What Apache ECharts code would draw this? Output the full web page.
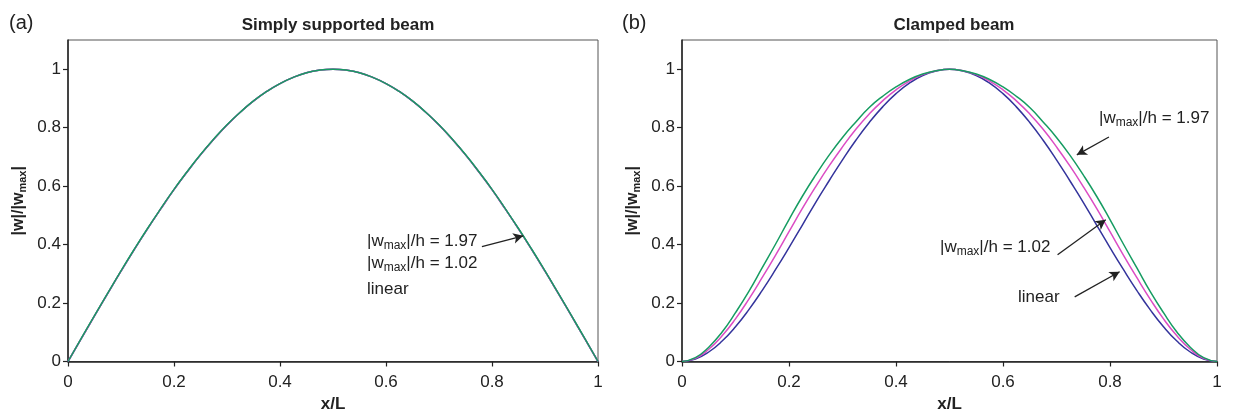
<!DOCTYPE html>
<html>
<head>
<meta charset="UTF-8">
<title>beam</title>
<style>html,body{margin:0;padding:0;background:#fff}#chart{width:1237px;height:414px}</style>
</head>
<body>
<div id="chart"></div>
<script src="https://cdn.jsdelivr.net/npm/echarts@6.0.0/dist/echarts.min.js"></script>
<script>
// x/L positions
var xs = [0,0.025,0.05,0.075,0.1,0.125,0.15,0.175,0.2,0.225,0.25,0.275,0.3,0.325,0.35,0.375,0.4,0.425,0.45,0.475,0.5,
	0.525,0.55,0.575,0.6,0.625,0.65,0.675,0.7,0.725,0.75,0.775,0.8,0.825,0.85,0.875,0.9,0.925,0.95,0.975,1];
// (a) simply supported - the three curves lie on top of each other
var ssLinear = [0,0.078,0.156,0.233,0.309,0.383,0.454,0.522,0.588,0.649,0.707,0.760,0.809,0.853,0.891,0.924,0.951,0.972,0.988,0.997,1,
	0.997,0.988,0.972,0.951,0.924,0.891,0.853,0.809,0.760,0.707,0.649,0.588,0.522,0.454,0.383,0.309,0.233,0.156,0.078,0];
var ss102    = [0,0.078,0.156,0.233,0.309,0.383,0.454,0.522,0.588,0.649,0.707,0.760,0.809,0.853,0.891,0.924,0.951,0.972,0.988,0.997,1,
	0.997,0.988,0.972,0.951,0.924,0.891,0.853,0.809,0.760,0.707,0.649,0.588,0.522,0.454,0.383,0.309,0.233,0.156,0.078,0];
var ss197    = [0,0.079,0.157,0.234,0.310,0.384,0.455,0.523,0.589,0.650,0.708,0.761,0.810,0.853,0.892,0.924,0.951,0.972,0.988,0.997,1,
	0.997,0.988,0.972,0.951,0.924,0.892,0.853,0.810,0.761,0.708,0.650,0.589,0.523,0.455,0.384,0.310,0.234,0.157,0.079,0];
// (b) clamped
var clLinear = [0,0.0085,0.0325,0.070,0.119,0.1776,0.2435,0.3149,0.3897,0.4667,0.5448,0.6184,0.690,0.7569,0.8177,0.8712,0.9165,0.9524,0.9786,0.9938,1,
	0.9938,0.9786,0.9524,0.9165,0.8712,0.8177,0.7569,0.690,0.6184,0.5448,0.4667,0.3897,0.3149,0.2435,0.1776,0.119,0.070,0.0325,0.0085,0];
var cl102    = [0,0.0108,0.042,0.088,0.146,0.2137,0.2875,0.3643,0.4442,0.5236,0.5984,0.6691,0.7342,0.7944,0.847,0.8919,0.9296,0.9595,0.9814,0.9945,1,
	0.9945,0.9814,0.9595,0.9296,0.8919,0.847,0.7944,0.7342,0.6691,0.5984,0.5236,0.4442,0.3643,0.2875,0.2137,0.146,0.088,0.042,0.0108,0];
var cl197    = [0,0.013,0.049,0.101,0.167,0.240,0.3209,0.402,0.4854,0.5654,0.6384,0.706,0.7666,0.8198,0.8691,0.9074,0.9395,0.965,0.9835,0.995,1,
	0.995,0.9835,0.965,0.9395,0.9074,0.8691,0.8198,0.7666,0.706,0.6384,0.5654,0.4854,0.402,0.3209,0.240,0.167,0.101,0.049,0.013,0];

var titles = ['Simply supported beam','Clamped beam'];
var panelTags = ['(a)','(b)'];

var FONT = 'Liberation Sans, Arial, sans-serif';
var cBlue = '#34349c', cPink = '#dc4cc4', cGreen = '#169c62';

function pts(arr){
	return xs.map(function(x,i){ return [x, arr[i]]; });
}

var myChart = echarts.init(document.getElementById('chart'));

function xAx(g){
	return {
		type:'value', gridIndex:g, min:0, max:1, interval:0.2,
		name:'x/L', nameLocation:'middle', nameGap:33,
		nameTextStyle:{fontFamily:FONT, fontSize:17, fontWeight:'bold', color:'#222'},
		axisLine:{lineStyle:{color:'#222', width:1.5}},
		axisTick:{length:5, lineStyle:{color:'#222', width:1.2}},
		axisLabel:{fontFamily:FONT, fontSize:17, color:'#222', margin:12},
		splitLine:{show:false}
	};
}
function yAx(g){
	return {
		type:'value', gridIndex:g, min:0, max:1.1, interval:0.2,
		name:'|w|/|w{s|max}|', nameLocation:'middle', nameGap:40,
		nameTextStyle:{fontFamily:FONT, fontSize:16, fontWeight:'bold', color:'#222',
			rich:{s:{fontFamily:FONT, fontSize:11, fontWeight:'bold', color:'#222', padding:[7,0,0,0]}}},
		axisLine:{lineStyle:{color:'#222', width:1.5}},
		axisTick:{length:5, lineStyle:{color:'#222', width:1.2}},
		axisLabel:{fontFamily:FONT, fontSize:17, color:'#222', margin:7, showMaxLabel:false},
		splitLine:{show:false}
	};
}
function line(name, g, arr, color, arrows){
	var s = {
		name:name, type:'line', xAxisIndex:g, yAxisIndex:g, data:pts(arr),
		smooth:true, showSymbol:false, symbol:'none', silent:true,
		lineStyle:{color:color, width:1.5}
	};
	if(arrows){
		s.markLine = {
			silent:true, symbol:['none','arrow'], symbolSize:[8,10],
			label:{show:false},
			lineStyle:{color:'#222', width:1.3, type:'solid'},
			data: arrows.map(function(a){ return [{coord:a[0]},{coord:a[1]}]; })
		};
	}
	return s;
}

var option = {
	animation:false,
	backgroundColor:'#fff',
	textStyle:{fontFamily:FONT},
	title:[
		{text:titles[0], left:333, top:12, textAlign:'center', textStyle:{fontFamily:FONT, fontSize:17, fontWeight:'bold', color:'#222'}},
		{text:titles[1], left:949, top:12, textAlign:'center', textStyle:{fontFamily:FONT, fontSize:17, fontWeight:'bold', color:'#222'}},
		{text:panelTags[0], left:4, top:8, textStyle:{fontFamily:FONT, fontSize:20, fontWeight:'normal', color:'#222'}},
		{text:panelTags[1], left:617, top:8, textStyle:{fontFamily:FONT, fontSize:20, fontWeight:'normal', color:'#222'}}
	],
	grid:[
		{left:68, width:530, top:40, height:321.5, show:true, borderColor:'#555', borderWidth:1, outerBoundsMode:'none'},
		{left:682, width:535, top:40, height:321.5, show:true, borderColor:'#555', borderWidth:1, outerBoundsMode:'none'}
	],
	xAxis:[xAx(0), xAx(1)],
	yAxis:[yAx(0), yAx(1)],
	series:[
		line('linear', 0, ssLinear, cBlue),
		line('1.02', 0, ss102, cPink),
		line('1.97', 0, ss197, cGreen, [[[0.781,0.393],[0.859,0.430]]]),
		line('linear', 1, clLinear, cBlue),
		line('1.02', 1, cl102, cPink),
		line('1.97', 1, cl197, cGreen, [
			[[0.798,0.768],[0.738,0.707]],
			[[0.702,0.365],[0.792,0.485]],
			[[0.734,0.221],[0.818,0.307]]
		])
	]
};
myChart.setOption(option);

// annotation texts
var rich = {
	b:{fontFamily:FONT, fontSize:17, color:'#222'},
	s:{fontFamily:FONT, fontSize:12, color:'#222', padding:[8,0,0,0]}
};
function note(txt, x, y){
	return {type:'text', left:x, top:y, silent:true,
		style:{text:txt, rich:rich, font:'17px '+FONT, fill:'#222', verticalAlign:'middle'}};
}
myChart.setOption({graphic:[
	note('{b||w}{s|max}{b||/h = 1.97}', 367, 233),
	note('{b||w}{s|max}{b||/h = 1.02}', 367, 255),
	note('{b|linear}', 367, 281),
	note('{b||w}{s|max}{b||/h = 1.97}', 1099, 110),
	note('{b||w}{s|max}{b||/h = 1.02}', 940, 239),
	note('{b|linear}', 1018, 289)
]});
window.onresize = myChart.resize;
</script>
</body>
</html>
